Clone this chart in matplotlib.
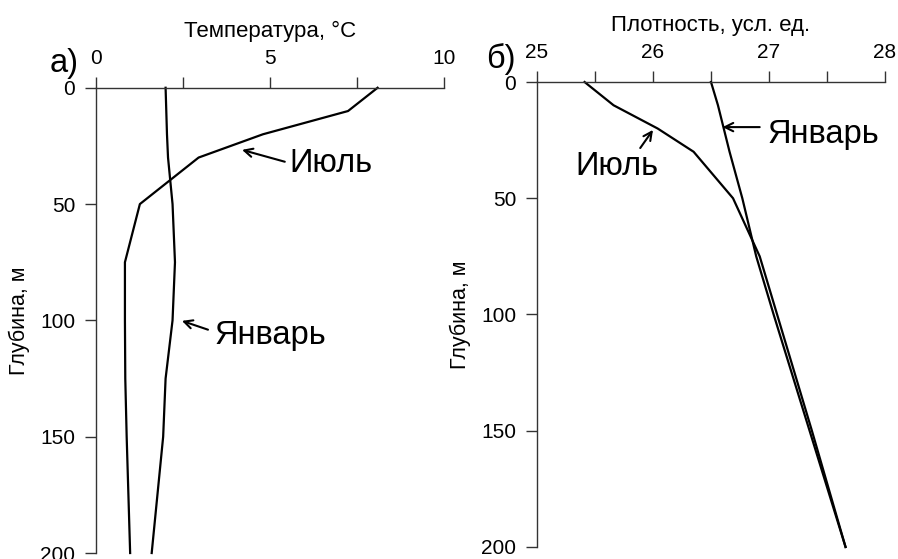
import matplotlib.pyplot as plt

plt.rcParams['font.family'] = ['Liberation Sans', 'DejaVu Sans']

# глубины и профили температуры
depth = [0, 10, 20, 30, 50, 75, 100, 125, 150, 200]
t_july = [8.1, 7.25, 4.8, 2.95, 1.26, 0.83, 0.83, 0.84, 0.88, 0.98]
t_jan = [2.0, 2.02, 2.04, 2.07, 2.2, 2.27, 2.2, 2.0, 1.93, 1.6]

# плотность
d_depth = [0, 10, 20, 30, 50, 75, 100, 150, 200]
rho_july = [25.41, 25.66, 26.04, 26.35, 26.69, 26.92, 27.07, 27.37, 27.66]
rho_jan = [26.5, 26.56, 26.61, 26.66, 26.77, 26.89, 27.04, 27.35, 27.66]

fig = plt.figure(figsize=(8.98, 5.59), dpi=100)
ax1 = fig.add_axes([0.107, 0.0107, 0.387, 0.8323])
ax2 = fig.add_axes([0.598, 0.0215, 0.3875, 0.8318])

def style(ax, xt, xl, xlabel):
    for s in ['right', 'bottom']:
        ax.spines[s].set_visible(False)
    for s in ['left', 'top']:
        ax.spines[s].set_color('#333333')
        ax.spines[s].set_linewidth(1.0)
    ax.xaxis.tick_top()
    ax.xaxis.set_label_position('top')
    ax.set_xticks(xt)
    ax.set_xticklabels(xl)
    ax.set_yticks([0, 50, 100, 150, 200])
    ax.set_ylim(200, 0)
    ax.set_xlim(xt[0], xt[-1])
    ax.tick_params(axis='both', direction='out', length=8, width=1, color='#333333', labelsize=15)
    ax.tick_params(axis='x', pad=6.5)
    ax.tick_params(axis='y', pad=7)
    ax.set_xlabel(xlabel, fontsize=16, labelpad=8.5)
    ax.set_ylabel('Глубина, м', fontsize=15.5, labelpad=7)

style(ax1, [0, 2.5, 5, 7.5, 10], ['0', '', '5', '', '10'], 'Температура, °C')
style(ax2, [25, 25.5, 26, 26.5, 27, 27.5, 28], ['25', '', '26', '', '27', '', '28'], 'Плотность, усл. ед.')

ax1.plot(t_july, depth, color='black', lw=1.6, clip_on=False)
ax1.plot(t_jan, depth, color='black', lw=1.6, clip_on=False)
ax2.plot(rho_july, d_depth, color='black', lw=1.6, clip_on=False)
ax2.plot(rho_jan, d_depth, color='black', lw=1.6, clip_on=False)

arr = dict(arrowstyle='->,head_length=0.6,head_width=0.3', color='black', lw=1.5, shrinkA=0, shrinkB=0)
fs = 23.5

ax1.annotate('', xy=(4.2, 26.7), xytext=(5.43, 31.8), arrowprops=arr)
ax1.text(5.57, 32.5, 'Июль', fontsize=fs, ha='left', va='center')
ax1.annotate('', xy=(2.47, 100.2), xytext=(3.22, 104), arrowprops=arr)
ax1.text(3.42, 106.5, 'Январь', fontsize=fs, ha='left', va='center')

ax2.annotate('', xy=(26.6, 19.4), xytext=(26.92, 19.4), arrowprops=arr)
ax2.text(26.99, 22.5, 'Январь', fontsize=fs, ha='left', va='center')
ax2.annotate('', xy=(26.0, 20.6), xytext=(25.89, 28.4), arrowprops=arr)
ax2.text(25.69, 36.5, 'Июль', fontsize=fs, ha='center', va='center')

fig.text(0.055, 0.886, 'а)', fontsize=fs, ha='left', va='center')
fig.text(0.541, 0.895, 'б)', fontsize=fs, ha='left', va='center')

fig.savefig('out.png', dpi=100)
